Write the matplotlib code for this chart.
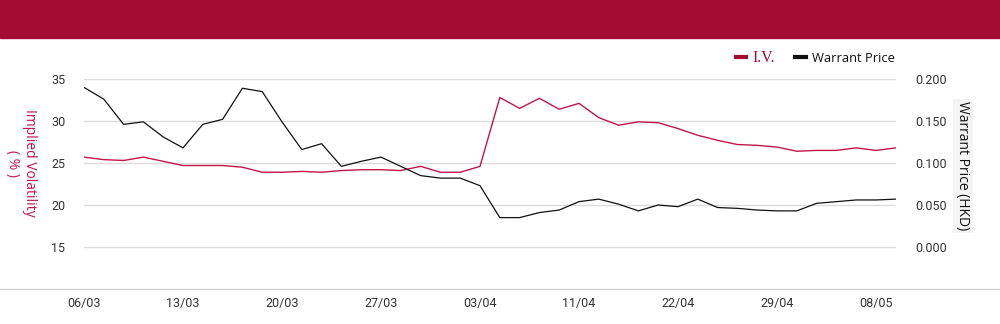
import matplotlib
matplotlib.use("Agg")
import matplotlib.pyplot as plt
from matplotlib.lines import Line2D
from matplotlib.patches import Rectangle
from matplotlib.ticker import FormatStrFormatter

# Datas de negociação (dd/mm)
dates = [
    "06/03", "07/03", "10/03", "11/03", "12/03", "13/03", "14/03", "17/03",
    "18/03", "19/03", "20/03", "21/03", "24/03", "25/03", "26/03", "27/03",
    "28/03", "31/03", "01/04", "02/04", "03/04", "07/04", "08/04", "09/04",
    "10/04", "11/04", "14/04", "15/04", "16/04", "17/04", "22/04", "23/04",
    "24/04", "25/04", "28/04", "29/04", "30/04", "02/05", "06/05", "07/05",
    "08/05", "09/05",
]

# Volatilidade implícita (%)
iv = [
    25.7, 25.4, 25.3, 25.7, 25.2, 24.7, 24.7, 24.7, 24.5, 23.9,
    23.9, 24.0, 23.9, 24.1, 24.2, 24.2, 24.1, 24.6, 23.9, 23.9,
    24.6, 32.8, 31.5, 32.7, 31.4, 32.1, 30.4, 29.5, 29.9, 29.8,
    29.1, 28.3, 27.7, 27.2, 27.1, 26.9, 26.4, 26.5, 26.5, 26.8,
    26.5, 26.8,
]

# Preço do warrant (HKD)
price = [
    0.190, 0.176, 0.146, 0.149, 0.131, 0.118, 0.146, 0.152, 0.189, 0.185,
    0.149, 0.116, 0.123, 0.096, 0.102, 0.107, 0.096, 0.085, 0.082, 0.082,
    0.073, 0.035, 0.035, 0.041, 0.044, 0.054, 0.057, 0.051, 0.043, 0.050,
    0.048, 0.057, 0.047, 0.046, 0.044, 0.043, 0.043, 0.052, 0.054, 0.056,
    0.056, 0.057,
]

left_ticks = [15, 20, 25, 30, 35]
right_ticks = [0.0, 0.05, 0.1, 0.15, 0.2]
label_idx = list(range(0, len(dates), 5))

RED = "#A30D33"
IV_RED = "#C2154A"
TXT = "#333333"

plt.rcParams["font.family"] = "Roboto"
plt.rcParams["font.size"] = 9

W, H = 1000, 324
fig = plt.figure(figsize=(W / 100, H / 100), dpi=100)

# Faixa superior
fig.patches.append(
    Rectangle((0, 1 - 38 / H), 1, 38 / H, transform=fig.transFigure,
              color=RED, zorder=0)
)

ax = fig.add_axes([84 / W, 1 - 289 / H, (895.8 - 84) / W, (289 - 79) / H])
ax2 = ax.twinx()

x = list(range(len(dates)))
ax.plot(x, iv, color=IV_RED, lw=1.0, zorder=3)
ax2.plot(x, price, color="#111111", lw=0.9, zorder=3)

ax.set_xlim(0, len(dates) - 1)
ax.set_ylim(10, 35)
ax2.set_ylim(-0.05, 0.2)
ax.set_yticks(left_ticks)
ax2.set_yticks(right_ticks)
ax2.yaxis.set_major_formatter(FormatStrFormatter("%.3f"))
ax.set_xticks(label_idx)
ax.set_xticklabels([dates[i] for i in label_idx])

ax.grid(axis="y", color="#dcdcdc", lw=1)
ax.set_axisbelow(True)
for a in (ax, ax2):
    for s in a.spines.values():
        s.set_visible(False)
ax.tick_params(axis="y", length=0, pad=13.5, labelcolor=TXT, labelsize=9)
ax2.tick_params(axis="y", length=0, pad=14, labelcolor=TXT, labelsize=9)
ax.tick_params(axis="x", length=0, pad=6, labelcolor=TXT, labelsize=9)

# Linha inferior em toda a largura
fig.add_artist(Line2D([0, 1], [1 - 289 / H, 1 - 289 / H],
                      transform=fig.transFigure, color="#cccccc", lw=1))

# Rótulos dos eixos
fig.text(21 / W, 1 - 163 / H, "Implied Volatility\n( % )", rotation=-90,
         ha="center", va="center", color=IV_RED, fontsize=10,
         family="Open Sans", multialignment="center", linespacing=1.2)
fig.text(963 / W, 1 - 166 / H, "Warrant Price (HKD)", rotation=-90,
         ha="center", va="center", color="#111111", fontsize=10,
         family="Open Sans",
         bbox=dict(boxstyle="square,pad=0.15", fc="#f4f4f4", ec="none"))

# Legenda
handles = [Line2D([], [], color=RED, lw=3), Line2D([], [], color="#111111", lw=3)]
leg = fig.legend(handles, ["I.V.", "Warrant Price"], loc="center right",
                 bbox_to_anchor=(906 / W, 1 - 58 / H), ncol=2, frameon=False,
                 handlelength=0.8, handletextpad=0.45, columnspacing=1.6,
                 prop={"family": "Open Sans", "size": 9.3})
leg.get_texts()[0].set_color(RED)
leg.get_texts()[0].set_family("Liberation Serif")
leg.get_texts()[0].set_fontsize(11.5)
leg.get_texts()[1].set_color("#111111")

fig.savefig("out.png", dpi=100)
